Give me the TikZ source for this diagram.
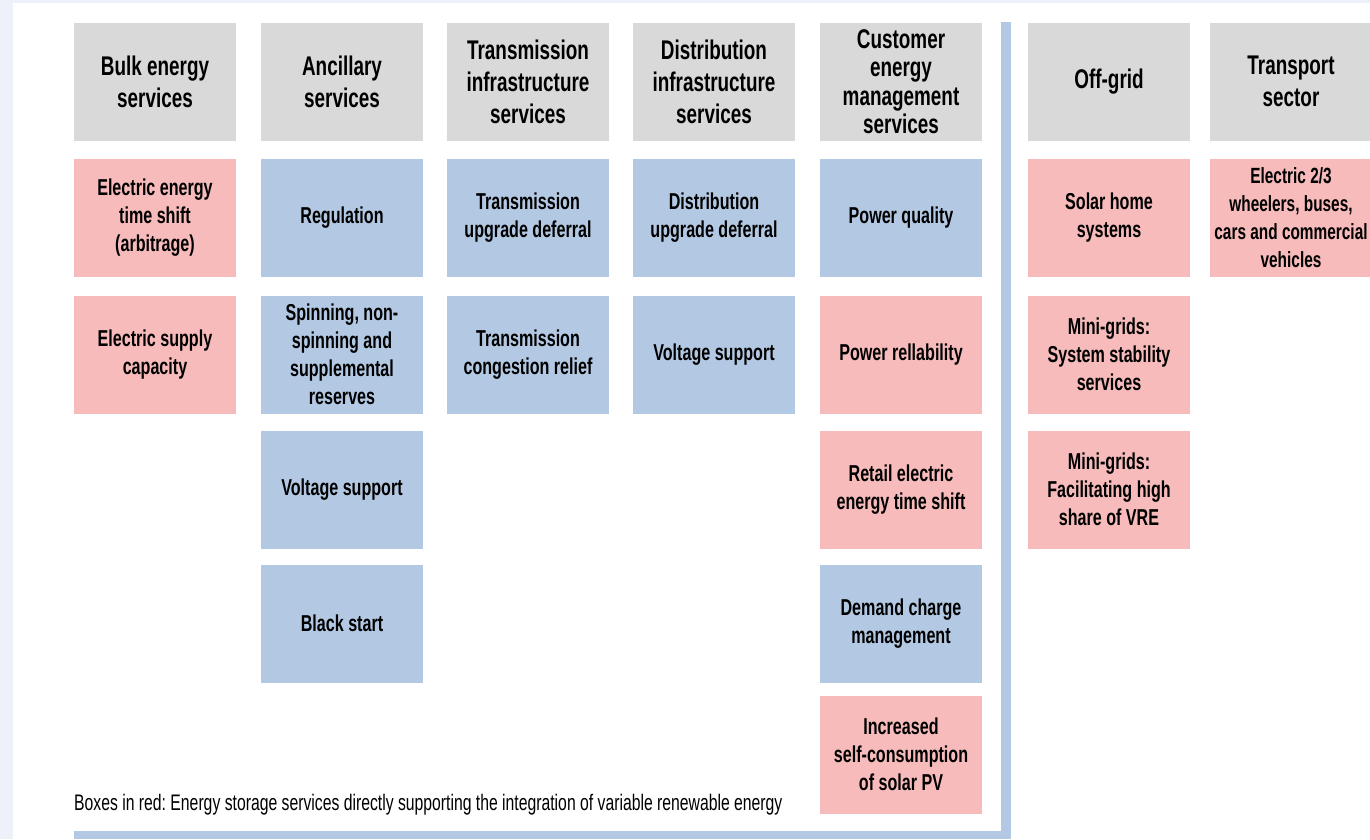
\documentclass[tikz,border=0pt]{standalone}
\usepackage{fontspec}
\setmainfont{Liberation Sans}[FakeStretch=0.7]
\usetikzlibrary{
  positioning,
}
\frenchspacing
\definecolor{boxgrey}{RGB}{217,217,217}
\definecolor{boxblue}{RGB}{179,201,227}
\definecolor{boxred}{RGB}{246,187,186}
\definecolor{pagetint}{RGB}{237,242,250}
\tikzstyle{cell} = [
  rectangle,
  minimum width=162pt,
  minimum height=118pt,
  inner sep=0pt,
  outer sep=0pt,
  align=center,
  text=black,
  font=\bfseries\fontsize{23}{28}\selectfont,
]
\tikzstyle{head} = [cell, fill=boxgrey, font=\bfseries\fontsize{27}{32}\selectfont]
\tikzstyle{grid} = [cell, fill=boxblue]
\tikzstyle{vre} = [cell, fill=boxred]

\begin{document}
\begin{tikzpicture}[x=1pt,y=-1pt,node distance=18pt and 24pt]
    \clip (0,0) rectangle (1370,839);
    % page and frame
    \fill[pagetint] (0,0) rectangle (1370,839);
    \fill[white] (13,3) rectangle (1370,839);
    \fill[boxblue] (74,831) rectangle (1011,839);
    \fill[boxblue] (1001,22) rectangle (1011,839);

    % headers
    \node[head] (bulk) at (155,81.5) {Bulk energy\\services};
    \node[head] (anc) [right=25pt of bulk] {Ancillary\\services};
    \node[head] (trans) [right=of anc] {Transmission\\infrastructure\\services};
    \node[head] (dist) [right=of trans] {Distribution\\infrastructure\\services};
    \node[head,font=\bfseries\fontsize{27}{28.5}\selectfont] (cust) [right=25pt of dist] {Customer\\energy\\management\\services};
    \node[head] (off) [right=46pt of cust] {Off-grid};
    \node[head] (tport) [right=20pt of off] {Transport\\sector};

    % bulk energy
    \node[vre] (bulk1) [below=of bulk] {Electric energy\\time shift\\(arbitrage)};
    \node[vre] (bulk2) [below=19pt of bulk1] {Electric supply\\capacity};

    % ancillary
    \node[grid] (anc1) [below=of anc] {Regulation};
    \node[grid] (anc2) [below=19pt of anc1] {Spinning, non-\\spinning and\\supplemental\\reserves};
    \node[grid] (anc3) [below=17pt of anc2] {Voltage support};
    \node[grid] (anc4) [below=16pt of anc3] {Black start};

    % transmission / distribution
    \node[grid] (trans1) [below=of trans] {Transmission\\upgrade deferral};
    \node[grid] (trans2) [below=19pt of trans1] {Transmission\\congestion relief};
    \node[grid] (dist1) [below=of dist] {Distribution\\upgrade deferral};
    \node[grid] (dist2) [below=19pt of dist1] {Voltage support};

    % customer
    \node[grid] (cust1) [below=of cust] {Power quality};
    \node[vre] (cust2) [below=19pt of cust1] {Power rellability};
    \node[vre] (cust3) [below=17pt of cust2] {Retail electric\\energy time shift};
    \node[grid] (cust4) [below=16pt of cust3] {Demand charge\\management};
    \node[vre] (cust5) [below=13pt of cust4] {Increased\\self-consumption\\of solar PV};

    % off-grid and transport
    \node[vre] (off1) [below=of off] {Solar home\\systems};
    \node[vre] (off2) [below=19pt of off1] {Mini-grids:\\System stability\\services};
    \node[vre] (off3) [below=17pt of off2] {Mini-grids:\\Facilitating high\\share of VRE};
    \node[vre,font=\bfseries\fontsize{22}{28}\selectfont] (tport1) [below=of tport] {Electric 2/3\\wheelers, buses,\\cars and commercial\\vehicles};

    \node[anchor=base west,inner sep=0pt,font=\fontsize{22.5}{26}\selectfont] (note) at (74,810) {Boxes in red: Energy storage services directly supporting the integration of variable renewable energy};
\end{tikzpicture}
\end{document}
